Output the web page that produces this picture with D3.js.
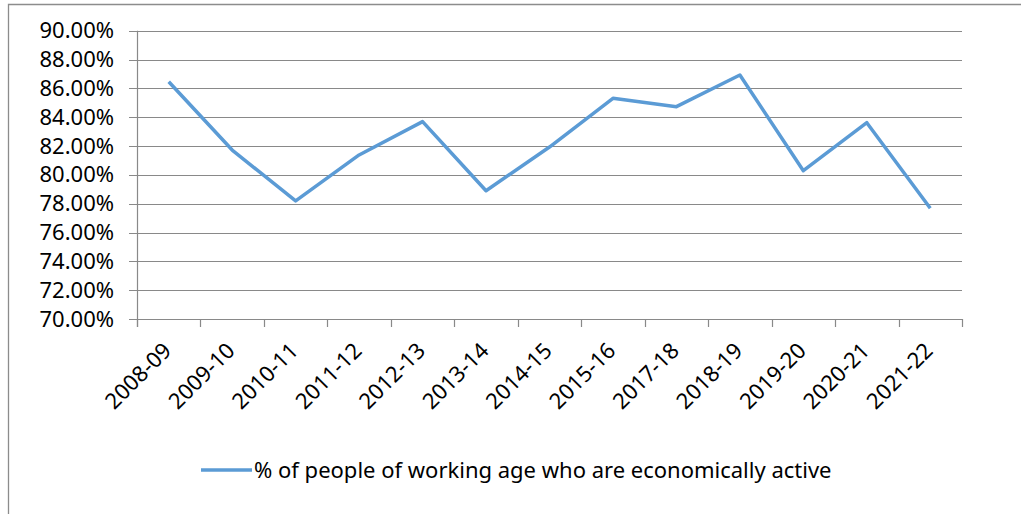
<html>
<head>
<meta charset="utf-8">
<title>Economically active</title>
<style>
  body { margin: 0; background: #fff; }
  text { font-family: "Noto Sans", "Open Sans", sans-serif; fill: #000; }
</style>
</head>
<body>
<script src="https://cdn.jsdelivr.net/npm/d3@7/dist/d3.min.js"></script>
<script>
    var categories = ["2008-09", "2009-10", "2010-11", "2011-12", "2012-13", "2013-14", "2014-15",
                      "2015-16", "2017-18", "2018-19", "2019-20", "2020-21", "2021-22"];
    var activeShare = [0.8646, 0.8172, 0.7819, 0.8138, 0.8369, 0.7890, 0.8193,
                       0.8531, 0.8473, 0.8693, 0.8029, 0.8362, 0.7768];
    var yTicks = [0.70, 0.72, 0.74, 0.76, 0.78, 0.80, 0.82, 0.84, 0.86, 0.88, 0.90];
    var seriesName = "% of people of working age who are economically active";

    var width = 1021, height = 514;
    var svg = d3.select("body").append("svg")
        .attr("width", width)
        .attr("height", height);

    var plot = {left: 137, right: 962, top: 30.7, bottom: 319};
    var gridColor = "#898989";
    var lineColor = "#5B9BD5";
    var fontSize = 22;

    // chart frame (only top and left visible)
    svg.append("path")
        .attr("d", "M8.5," + height + "V4.5H" + width)
        .attr("fill", "none")
        .attr("stroke", "#8c8c8c")
        .attr("stroke-width", 1.3);

    var xScale = d3.scaleBand()
        .domain(categories)
        .range([plot.left, plot.right]);
    var yScale = d3.scaleLinear()
        .domain([0.70, 0.90])
        .range([plot.bottom, plot.top]);

    // gridlines
    svg.append("g").selectAll("line")
        .data(yTicks)
        .enter()
        .append("line")
        .attr("x1", plot.left - 8)
        .attr("x2", plot.right)
        .attr("y1", function(d) { return Math.round(yScale(d)) + 0.5; })
        .attr("y2", function(d) { return Math.round(yScale(d)) + 0.5; })
        .attr("stroke", gridColor)
        .attr("stroke-width", 1.2);

    // y axis
    var yAxis = d3.axisLeft(yScale)
        .tickValues(yTicks)
        .tickSize(0)
        .tickPadding(23)
        .tickFormat(d3.format(".2%"));
    var gy = svg.append("g")
        .attr("transform", "translate(" + plot.left + ",0)")
        .call(yAxis);
    gy.select(".domain").remove();
    gy.selectAll("text").style("font-size", fontSize + "px").attr("font-family", null);
    svg.append("line")
        .attr("x1", plot.left + 0.5).attr("x2", plot.left + 0.5)
        .attr("y1", plot.top).attr("y2", plot.bottom + 8)
        .attr("stroke", gridColor).attr("stroke-width", 1.2);

    // x axis ticks at band edges
    var edges = categories.map(function(c) { return xScale(c); }).concat([plot.right]);
    svg.append("g").selectAll("line")
        .data(edges)
        .enter()
        .append("line")
        .attr("x1", function(d) { return Math.round(d) + 0.5; })
        .attr("x2", function(d) { return Math.round(d) + 0.5; })
        .attr("y1", plot.bottom)
        .attr("y2", plot.bottom + 8)
        .attr("stroke", gridColor)
        .attr("stroke-width", 1.2);

    // x labels rotated
    svg.append("g").selectAll("text")
        .data(categories)
        .enter()
        .append("text")
        .attr("text-anchor", "end")
        .style("font-size", fontSize + "px")
        .attr("transform", function(d) {
            var cx = xScale(d) + xScale.bandwidth() / 2;
            return "translate(" + (cx + 4) + "," + (plot.bottom + 33) + ") rotate(-45)";
        })
        .text(function(d) { return d; });

    // series line
    var line = d3.line()
        .x(function(d, i) { return xScale(categories[i]) + xScale.bandwidth() / 2; })
        .y(function(d) { return yScale(d); });
    svg.append("path")
        .datum(activeShare)
        .attr("d", line)
        .attr("fill", "none")
        .attr("stroke", lineColor)
        .attr("stroke-width", 3.5)
        .attr("stroke-linejoin", "round");

    // legend
    var legendY = 470;
    svg.append("line")
        .attr("x1", 201).attr("x2", 252)
        .attr("y1", legendY).attr("y2", legendY)
        .attr("stroke", lineColor)
        .attr("stroke-width", 3.5);
    svg.append("text")
        .attr("x", 254)
        .attr("y", legendY)
        .attr("dy", "0.35em")
        .style("font-size", fontSize + "px")
        .text(seriesName);
</script>
</body>
</html>
